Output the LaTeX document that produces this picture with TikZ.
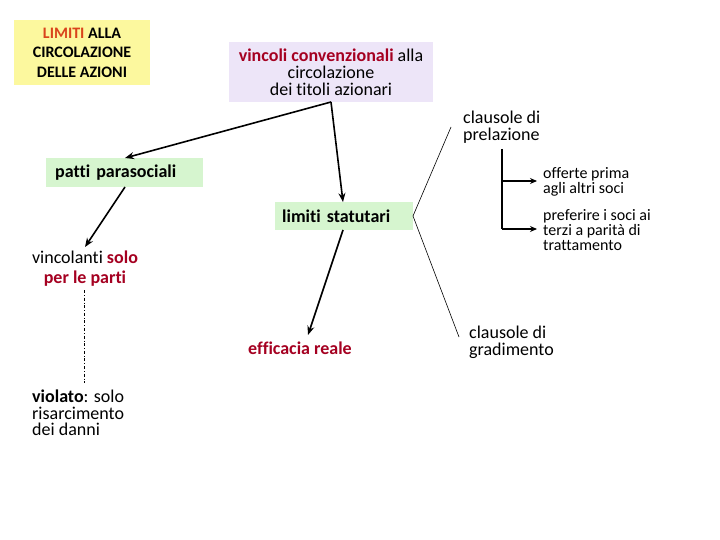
\documentclass[tikz,border=0pt]{standalone}
\usepackage{fontspec}
\setmainfont{Carlito}[Ligatures=NoCommon]
\usetikzlibrary{arrows.meta}
\definecolor{dred}{HTML}{A50021}
\definecolor{ored}{HTML}{D9441C}
\definecolor{yfill}{HTML}{FCF89E}
\definecolor{lfill}{HTML}{EDE5F8}
\definecolor{gfill}{HTML}{D6F5CF}
\tikzset{
  ybox/.style={fill=yfill, minimum width=136pt, minimum height=65pt, align=center, inner sep=0pt, font=\fontsize{16}{19.5}\selectfont},
  lbox/.style={fill=lfill, minimum width=204pt, minimum height=60pt, align=center, inner sep=0pt, font=\fontsize{18}{17}\selectfont},
  gbox/.style={fill=gfill, minimum height=29pt, inner ysep=0pt, align=left, font=\fontsize{18}{20}\selectfont\bfseries},
  txt/.style={inner sep=0pt, font=\fontsize{18}{17}\selectfont},
  stxt/.style={inner sep=0pt, align=left, font=\fontsize{16}{15}\selectfont},
  arr/.style={line width=1.6pt, -{Stealth[length=9pt,width=7pt]}},
  thin/.style={line width=0.6pt},
}
\begin{document}
\begin{tikzpicture}[x=1pt,y=-1pt]
\useasboundingbox[fill=white] (0,0) rectangle (720,540);
\node[ybox] (lim) at (82,52.5) {\textbf{\textcolor{ored}{LIMITI} ALLA}\\\textbf{CIRCOLAZIONE}\\\textbf{DELLE AZIONI}};
\node[lbox] (vin) at (331,72) {\textbf{\textcolor{dred}{vincoli convenzionali}} alla\\circolazione\\dei titoli azionari};
\coordinate (vb) at (331,102);
\node[gbox, text width=139pt, inner xsep=9pt, anchor=west] (pat) at (46,173) {patti parasociali};
\node[gbox, text width=124pt, inner xsep=7pt, minimum height=28pt, anchor=west] (sta) at (275,216) {limiti statutari};
\coordinate (pt) at (125,158);
\coordinate (st) at (343,202);
\draw[arr] (vb) -- (pt);
\draw[arr] (vb) -- (st);
\node[txt, align=center, font=\fontsize{18}{20}\selectfont] (vinc) at (85,269) {vincolanti \textbf{\textcolor{dred}{solo}}\\\textbf{\textcolor{dred}{per le parti}}};
\coordinate (pb) at (125,187);
\draw[arr] (pb) -- (85,247) coordinate (va);
\node[txt, align=left, anchor=west, font=\fontsize{18}{16.5}\selectfont] (vio) at (32,413) {\textbf{violato}: solo\\risarcimento\\dei danni};
\draw[thin, dash dot] (84,290) -- (84,383);
\coordinate (sb) at (343,230);
\node[txt, font=\fontsize{18}{17}\selectfont\bfseries, text=dred] (eff) at (300,348) {efficacia reale};
\draw[arr] (sb) -- (308,335);
\coordinate (apex) at (413,216);
\draw[thin] (451,127) -- (apex) -- (459,337);
\node[txt, align=left, anchor=west] (pre) at (463,127) {clausole di\\prelazione};
\node[txt, align=left, anchor=west] (gra) at (469,342) {clausole di\\gradimento};
\coordinate (v1) at (502,149);
\coordinate (v2) at (502,229);
\node[stxt, anchor=west] (off) at (543,182) {offerte prima\\agli altri soci};
\node[stxt, anchor=west] (pref) at (543,230) {preferire i soci ai\\terzi a parità di\\trattamento};
\draw[line width=1.5pt] (v1) -- (v2);
\draw[line width=1.5pt, -{Stealth[length=7pt,width=6pt]}] (502,181) -- (537,181);
\draw[line width=1.5pt, -{Stealth[length=7pt,width=6pt]}] (v2) -- (537,229);
\end{tikzpicture}
\end{document}
